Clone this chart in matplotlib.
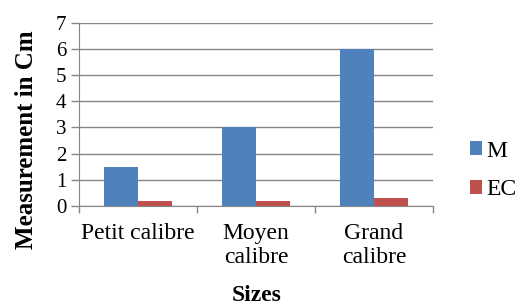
import matplotlib
matplotlib.use("Agg")
import matplotlib.pyplot as plt
import numpy as np

categories = ["Petit calibre", "Moyen\ncalibre", "Grand\ncalibre"]
m_values = [1.5, 3.0, 6.0]
ec_values = [0.2, 0.2, 0.32]
series_names = ["M", "EC"]

plt.rcParams['font.family'] = ['Liberation Serif', 'DejaVu Serif']

fig = plt.figure(figsize=(5.23, 3.07), dpi=100)
ax = fig.add_axes([0.151, 0.329, 0.677, 0.597])

x = np.arange(len(categories))
w = 0.29
b1 = ax.bar(x - w / 2, m_values, w, color='#4F81BD', label=series_names[0], zorder=3)
b2 = ax.bar(x + w / 2, ec_values, w, color='#C0504D', label=series_names[1], zorder=3)

ax.set_xlim(-0.5, 2.5)
ax.set_ylim(0, 7)
ax.set_yticks(range(8))
ax.yaxis.grid(True, color='#868686', linewidth=1, zorder=0)

ax.set_xticks(x)
ax.set_xticklabels(categories, fontsize=17, linespacing=1.2)
ax.set_xticks([-0.5, 0.5, 1.5, 2.5], minor=True)
ax.tick_params(axis='x', which='major', length=0, pad=12)
ax.tick_params(axis='x', which='minor', length=5, color='#868686', width=1)
ax.tick_params(axis='y', length=6, color='#868686', width=1, labelsize=15, pad=3)

for s in ['top', 'right']:
    ax.spines[s].set_visible(False)
for s in ['left', 'bottom']:
    ax.spines[s].set_color('#868686')

fig.text(27 / 523, 0.545, "Measurement in Cm", fontsize=18, fontweight='bold',
         rotation=90, ha='center', va='center')
fig.text(0.491, 0.036, "Sizes", fontsize=17, fontweight='bold', ha='center', va='center')

fig.legend(handles=[b1, b2], loc='center left', bbox_to_anchor=(0.899, 0.445),
           frameon=False, fontsize=17, handlelength=0.5, handleheight=0.5,
           handletextpad=0.2, labelspacing=0.75, borderaxespad=0, borderpad=0)

fig.savefig("out.png", dpi=100)
